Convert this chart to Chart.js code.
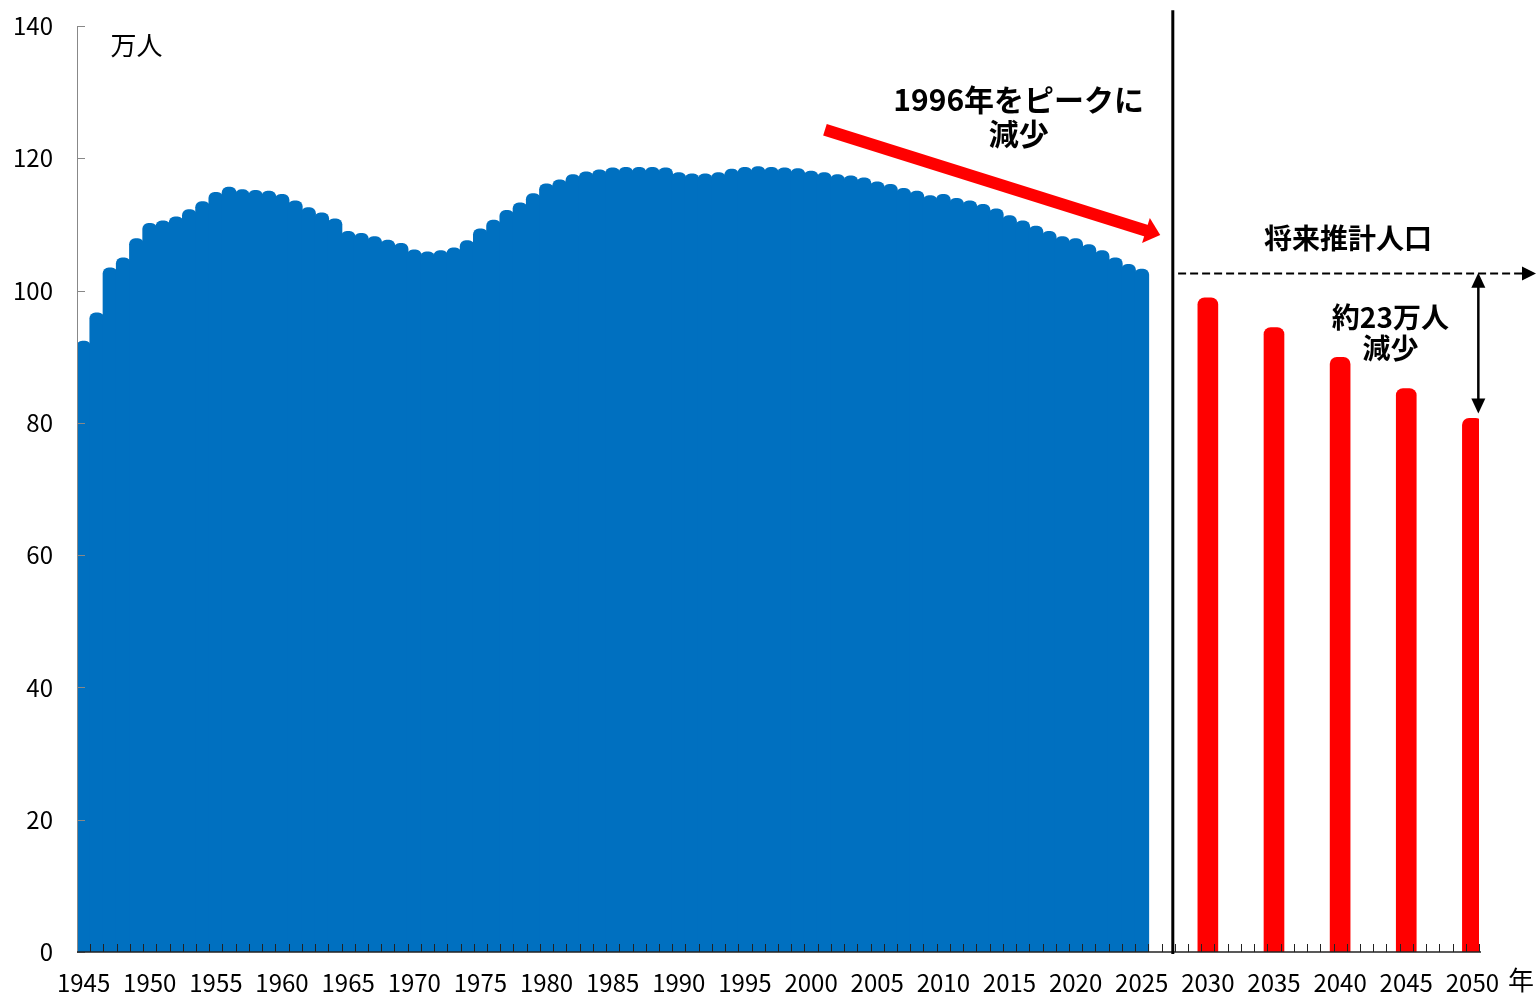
<!DOCTYPE html>
<html lang="ja">
<head>
<meta charset="utf-8">
<title>人口の推移と将来推計</title>
<script src="https://cdn.jsdelivr.net/npm/chart.js@4.4.1/dist/chart.umd.min.js"></script>
<style>
  html, body { margin: 0; padding: 0; background: #fff; }
  #wrap { width: 1536px; height: 996px; position: relative; }
</style>
</head>
<body>
<div id="wrap"><canvas id="chart"></canvas></div>
<script>
const firstYear = 1945;
const lastYear = 2050;

// 実績 1945-2025（万人）
const actualYears = [];
for (let y = 1945; y <= 2025; y++) actualYears.push(y);
const actualValues = [
  92.4, 96.7, 103.5, 105.0, 107.9, 110.2, 110.6, 111.2, 112.3, 113.5,
  114.9, 115.7, 115.3, 115.2, 115.1, 114.6, 113.6, 112.6, 111.8, 110.9,
  109.0, 108.7, 108.2, 107.7, 107.2, 106.2, 105.9, 106.1, 106.5, 107.6,
  109.4, 110.7, 112.2, 113.3, 114.7, 116.2, 116.8, 117.6, 118.0, 118.3,
  118.6, 118.7, 118.7, 118.7, 118.6, 117.9, 117.7, 117.7, 117.9, 118.4,
  118.7, 118.8, 118.7, 118.6, 118.5, 118.1, 117.9, 117.6, 117.4, 117.1,
  116.5, 116.1, 115.5, 115.1, 114.4, 114.6, 114.0, 113.6, 113.1, 112.4,
  111.4, 110.6, 109.8, 109.0, 108.2, 107.9, 107.0, 106.1, 105.0, 104.0,
  103.3
];

// 将来推計
const projYears = [2030, 2035, 2040, 2045, 2050];
const projValues = [98.9, 94.4, 89.9, 85.2, 80.7];

const yTicks = [0, 20, 40, 60, 80, 100, 120, 140];

const years = [];
for (let y = firstYear; y <= lastYear; y++) years.push(String(y));

const blueData = years.map(y => {
  const i = actualYears.indexOf(+y);
  return i >= 0 ? actualValues[i] : null;
});
const redData = years.map(y => {
  const i = projYears.indexOf(+y);
  return i >= 0 ? projValues[i] : null;
});

const FONT = '"Noto Sans CJK JP", "Noto Sans", sans-serif';

function arrowHead(ctx, tx, ty, ux, uy, len, half) {
  const nx = -uy, ny = ux;
  const bx = tx - ux * len, by = ty - uy * len;
  ctx.beginPath();
  ctx.moveTo(tx, ty);
  ctx.lineTo(bx + nx * half, by + ny * half);
  ctx.lineTo(bx - nx * half, by - ny * half);
  ctx.closePath();
  ctx.fill();
}

const overlay = {
  id: 'overlay',
  afterDatasetsDraw(chart) {
    const { ctx, chartArea: a, scales: { x, y } } = chart;
    const px = yr => x.getPixelForValue(yr - firstYear);
    ctx.save();

    // 軸線と内向きの目盛
    ctx.strokeStyle = '#888';
    ctx.lineWidth = 1;
    ctx.beginPath();
    ctx.moveTo(a.left + 0.5, a.top);
    ctx.lineTo(a.left + 0.5, a.bottom);
    yTicks.forEach(v => {
      const py = Math.round(y.getPixelForValue(v)) + 0.5;
      ctx.moveTo(a.left, py);
      ctx.lineTo(a.left + 8, py);
    });
    ctx.stroke();

    ctx.strokeStyle = '#222';
    ctx.beginPath();
    for (let i = 1; i <= years.length; i++) {
      const tx = Math.round(x.getPixelForValue(i - 0.5)) + 0.5;
      ctx.moveTo(tx, a.bottom);
      ctx.lineTo(tx, a.bottom - 8);
    }
    ctx.stroke();
    ctx.lineWidth = 1.5;
    ctx.beginPath();
    ctx.moveTo(a.left, a.bottom);
    ctx.lineTo(a.right + 2, a.bottom);
    ctx.stroke();

    // 実績と推計の区切り線
    const sep = px(2027.35);
    ctx.strokeStyle = '#000';
    ctx.lineWidth = 3;
    ctx.beginPath();
    ctx.moveTo(sep, y.getPixelForValue(142.4));
    ctx.lineTo(sep, a.bottom + 2);
    ctx.stroke();

    // 赤い矢印
    const sx = px(2001.05), sy = y.getPixelForValue(124.3);
    const ex = px(2026.4), ey = y.getPixelForValue(108.4);
    const d = Math.hypot(ex - sx, ey - sy);
    const ux = (ex - sx) / d, uy = (ey - sy) / d;
    ctx.strokeStyle = '#ff0000';
    ctx.fillStyle = '#ff0000';
    ctx.lineWidth = 12;
    ctx.lineCap = 'butt';
    ctx.beginPath();
    ctx.moveTo(sx, sy);
    ctx.lineTo(ex - ux * 12, ey - uy * 12);
    ctx.stroke();
    arrowHead(ctx, ex, ey, ux, uy, 15, 13);

    // 点線の矢印（2025年水準）
    const dy = Math.round(y.getPixelForValue(102.7)) + 0.5;
    ctx.strokeStyle = '#000';
    ctx.fillStyle = '#000';
    ctx.lineWidth = 2;
    ctx.setLineDash([8, 4]);
    ctx.beginPath();
    ctx.moveTo(px(2027.75), dy);
    ctx.lineTo(chart.width - 12, dy);
    ctx.stroke();
    ctx.setLineDash([]);
    arrowHead(ctx, chart.width, dy, 1, 0, 14, 7);

    // 両矢印
    const ax = px(2050.45);
    const ay1 = y.getPixelForValue(102.7), ay2 = y.getPixelForValue(81.4);
    ctx.lineWidth = 2.5;
    ctx.beginPath();
    ctx.moveTo(ax, ay1 + 10);
    ctx.lineTo(ax, ay2 - 10);
    ctx.stroke();
    arrowHead(ctx, ax, ay1, 0, -1, 15, 7);
    arrowHead(ctx, ax, ay2, 0, 1, 15, 7);

    // テキスト
    ctx.fillStyle = '#000';
    ctx.textAlign = 'center';
    ctx.textBaseline = 'middle';
    ctx.font = '700 30px ' + FONT;
    ctx.fillText('1996年をピークに', px(2015.7), y.getPixelForValue(128.8));
    ctx.fillText('減少', px(2015.7), y.getPixelForValue(123.8));
    ctx.font = '700 28px ' + FONT;
    ctx.fillText('将来推計人口', px(2040.6), y.getPixelForValue(107.9));
    ctx.fillText('約23万人', px(2043.8), y.getPixelForValue(96.0));
    ctx.fillText('減少', px(2043.8), y.getPixelForValue(91.3));
    ctx.font = '400 26px ' + FONT;
    ctx.fillText('万人', px(1949.0), y.getPixelForValue(137.1));
    ctx.fillText('年', a.right + 42, a.bottom + 28);

    ctx.restore();
  }
};

new Chart(document.getElementById('chart'), {
  type: 'bar',
  data: {
    labels: years,
    datasets: [
      {
        label: '実績',
        data: blueData,
        backgroundColor: '#0070c0',
        borderRadius: 6,
        borderSkipped: 'start',
        barPercentage: 1.12,
        categoryPercentage: 1,
        grouped: false
      },
      {
        label: '将来推計',
        data: redData,
        backgroundColor: '#ff0000',
        borderRadius: 7,
        borderSkipped: 'start',
        barThickness: 20,
        grouped: false
      }
    ]
  },
  options: {
    responsive: true,
    maintainAspectRatio: false,
    animation: false,
    layout: { padding: { top: 26, right: 57, left: 0, bottom: 0 } },
    plugins: {
      legend: { display: false },
      tooltip: { enabled: false }
    },
    scales: {
      x: {
        offset: true,
        grid: { display: false, drawTicks: false },
        border: { display: false },
        afterFit: s => { s.height = 44; s.paddingLeft = 0; s.paddingRight = 0; },
        ticks: {
          autoSkip: false,
          maxRotation: 0,
          padding: 16,
          color: '#000',
          font: { family: FONT, size: 24 },
          callback: (v, i) => (+years[i] % 5 === 0 ? years[i] : '')
        }
      },
      y: {
        min: 0,
        max: 140,
        grid: { display: false, drawTicks: false },
        border: { display: false },
        afterFit: s => { s.width = 77; s.paddingTop = 0; s.paddingBottom = 0; },
        afterBuildTicks: s => { s.ticks = yTicks.map(v => ({ value: v })); },
        ticks: {
          padding: 24,
          color: '#000',
          font: { family: FONT, size: 24 }
        }
      }
    }
  },
  plugins: [overlay]
});
</script>
</body>
</html>
